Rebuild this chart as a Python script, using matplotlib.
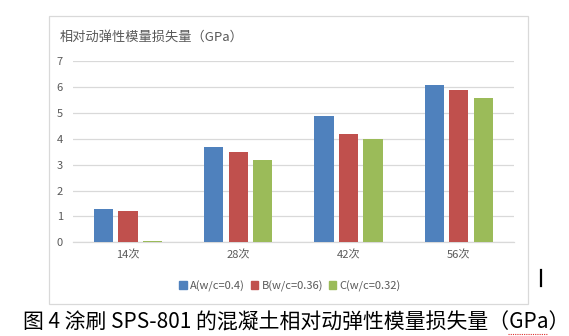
import numpy as np
import matplotlib
matplotlib.use("Agg")
import matplotlib.pyplot as plt
from matplotlib.patches import Rectangle
from matplotlib.lines import Line2D

plt.rcParams['font.family'] = ['Noto Sans CJK SC', 'DejaVu Sans']

categories = ["14次", "28次", "42次", "56次"]
series_names = ["A(w/c=0.4)", "B(w/c=0.36)", "C(w/c=0.32)"]
values_a = [1.3, 3.7, 4.9, 6.1]
values_b = [1.2, 3.5, 4.2, 5.9]
values_c = [0.05, 3.2, 4.0, 5.6]
y_ticks = [0, 1, 2, 3, 4, 5, 6, 7]
title = "相对动弹性模量损失量（GPa）"
caption = "图 4 涂刷 SPS-801 的混凝土相对动弹性模量损失量（GPa）"

colors = ["#4F81BD", "#C0504D", "#9BBB59"]
text_color = "#595959"
grid_color = "#D9D9D9"

W, H = 569, 336
fig = plt.figure(figsize=(W / 100, H / 100), dpi=100)
fig.patch.set_facecolor("white")

# chart area frame
frame = Rectangle((48.5 / W, 1 - 304 / H), (528 - 48.5) / W, (304 - 16) / H,
                  transform=fig.transFigure, fill=False, edgecolor="#D9D9D9",
                  linewidth=0.9)
fig.add_artist(frame)

ax = fig.add_axes([72.7 / W, 1 - 242.3 / H, (514 - 72.7) / W, (242.3 - 61.3) / H])
x = np.arange(len(categories))
width = 0.175
offset = 0.222
for i, (vals, name) in enumerate(zip([values_a, values_b, values_c], series_names)):
    ax.bar(x + (i - 1) * offset, vals, width, color=colors[i], label=name, zorder=3)

ax.set_xlim(-0.5, len(categories) - 0.5)
ax.set_ylim(0, 7)
ax.set_yticks(y_ticks)
ax.set_yticklabels([str(t) for t in y_ticks])
ax.set_xticks(x)
ax.set_xticklabels(categories)
ax.grid(axis="y", color=grid_color, linewidth=0.9, zorder=0)
for s in ["top", "right", "left"]:
    ax.spines[s].set_visible(False)
ax.spines["bottom"].set_color(grid_color)
ax.spines["bottom"].set_linewidth(0.9)
ax.tick_params(axis="both", length=0, labelsize=8, labelcolor=text_color)
ax.tick_params(axis="y", pad=7)
ax.tick_params(axis="x", pad=6)

fig.text(60 / W, 1 - 37 / H, title, fontsize=9.5, color=text_color,
         ha="left", va="center")

handles = [Rectangle((0, 0), 1, 1, color=c) for c in colors]
fig.legend(handles, series_names, loc="center", bbox_to_anchor=(290 / W, 1 - 286 / H),
           ncol=3, frameon=False, fontsize=8, labelcolor=text_color,
           handlelength=0.7, handleheight=0.7, handletextpad=0.3, columnspacing=0.5)

cap = fig.text(23 / W, 1 - 323 / H, caption, fontsize=15, color="black",
               ha="left", va="center")

# spell-check underline beneath "GPa"
fig.add_artist(Line2D([508 / W, 548 / W], [1 - 334 / H, 1 - 334 / H],
                      transform=fig.transFigure, color="#E03030", linewidth=0.8,
                      linestyle=(0, (1, 1))))

# text cursor
fig.add_artist(Line2D([541 / W, 541 / W], [1 - 270 / H, 1 - 286 / H],
                      transform=fig.transFigure, color="black", linewidth=1.6))

fig.savefig("out.png", dpi=100, facecolor="white")
